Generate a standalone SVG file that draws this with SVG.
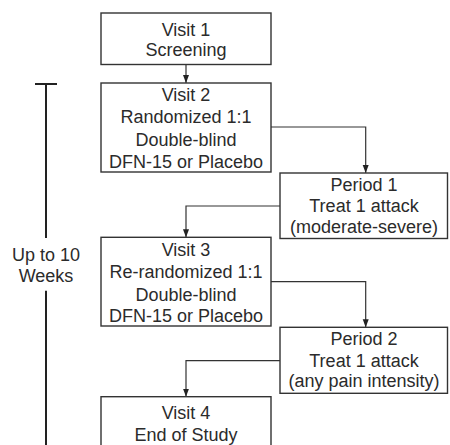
<svg xmlns="http://www.w3.org/2000/svg" width="450" height="445" viewBox="0 0 450 445">
<style>
.box{fill:#fff;stroke:#333;stroke-width:1.4}
.t{font-family:"Liberation Sans",Arial,sans-serif;font-size:18px;fill:#2b2b2b;text-anchor:middle}
.c{fill:none;stroke:#333;stroke-width:1.2}
.bar{fill:none;stroke:#222;stroke-width:2}
</style>
<defs>
<marker id="ah" viewBox="0 0 8 8" refX="8" refY="4" markerWidth="8" markerHeight="8" markerUnits="userSpaceOnUse" orient="auto">
<path d="M0,1 L8,4 L0,7 Z" fill="#222"/>
</marker>
</defs>
<rect width="450" height="445" fill="#fff"/>
<g id="connectors">
<path class="c" d="M186,64.5 V83" marker-end="url(#ah)"/>
<path class="c" d="M271,127 H365.7 V173" marker-end="url(#ah)"/>
<path class="c" d="M280,206 H186 V237.3" marker-end="url(#ah)"/>
<path class="c" d="M271,281.7 H365.7 V327.3" marker-end="url(#ah)"/>
<path class="c" d="M280,360.7 H186 V396.7" marker-end="url(#ah)"/>
</g>
<g id="timeline">
<path class="bar" d="M35,84 H57 M46,84 V238 M46,290.7 V445"/>
<text class="t" x="46" y="260.7">Up to 10</text>
<text class="t" x="46" y="282">Weeks</text>
</g>
<g id="visit1">
<rect class="box" x="101" y="13" width="170" height="51.5"/>
<text class="t" x="186" y="36">Visit 1</text>
<text class="t" x="186" y="55.7">Screening</text>
</g>
<g id="visit2">
<rect class="box" x="101" y="83" width="170" height="89"/>
<text class="t" x="186" y="101">Visit 2</text>
<text class="t" x="186" y="123">Randomized 1:1</text>
<text class="t" x="186" y="145.7">Double-blind</text>
<text class="t" x="186" y="168">DFN-15 or Placebo</text>
</g>
<g id="period1">
<rect class="box" x="280" y="173" width="167.5" height="65.5"/>
<text class="t" x="364" y="191">Period 1</text>
<text class="t" x="364" y="212">Treat 1 attack</text>
<text class="t" x="364" y="233.3">(moderate-severe)</text>
</g>
<g id="visit3">
<rect class="box" x="101" y="237.3" width="170" height="88.7"/>
<text class="t" x="186" y="256">Visit 3</text>
<text class="t" x="186" y="278.3">Re-randomized 1:1</text>
<text class="t" x="186" y="301">Double-blind</text>
<text class="t" x="186" y="321.7">DFN-15 or Placebo</text>
</g>
<g id="period2">
<rect class="box" x="280" y="327.3" width="167.5" height="66"/>
<text class="t" x="364" y="345">Period 2</text>
<text class="t" x="364" y="366.7">Treat 1 attack</text>
<text class="t" x="364" y="386.7">(any pain intensity)</text>
</g>
<g id="visit4">
<rect class="box" x="101" y="396.7" width="170" height="60"/>
<text class="t" x="186" y="419">Visit 4</text>
<text class="t" x="186" y="441">End of Study</text>
</g>
</svg>
